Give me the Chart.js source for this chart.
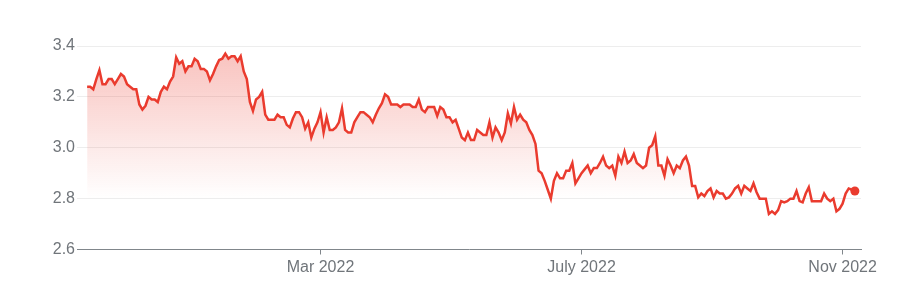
<!DOCTYPE html>
<html lang="en">
<head>
  <meta charset="UTF-8" />
  <title>1Y price chart</title>
  <script src="https://cdn.jsdelivr.net/npm/chart.js"></script>
  <style>
    html, body { margin: 0; padding: 0; background: #fff; }
    #wrap { position: relative; width: 903px; height: 297px; }
  </style>
</head>
<body>
  <div id="wrap"><canvas id="priceChart"></canvas></div>

  <script>
// closing prices, one per trading day (Nov 2021 - Nov 2022)
const prices = [
  3.24, 3.24, 3.23, 3.27, 3.305, 3.25, 3.25, 3.27, 3.27, 3.25,
  3.27, 3.29, 3.28, 3.25, 3.24, 3.23, 3.23, 3.17, 3.15, 3.165,
  3.20, 3.19, 3.19, 3.18, 3.22, 3.24, 3.23, 3.26, 3.28, 3.355,
  3.33, 3.34, 3.30, 3.32, 3.32, 3.35, 3.34, 3.31, 3.31, 3.30,
  3.265, 3.29, 3.32, 3.345, 3.35, 3.37, 3.35, 3.36, 3.36, 3.34,
  3.36, 3.30, 3.27, 3.18, 3.145, 3.19, 3.20, 3.22, 3.13, 3.11,
  3.11, 3.11, 3.13, 3.12, 3.12, 3.09, 3.08, 3.115, 3.14, 3.14,
  3.12, 3.075, 3.10, 3.04, 3.075, 3.10, 3.14, 3.06, 3.12, 3.07,
  3.07, 3.08, 3.10, 3.155, 3.07, 3.06, 3.06, 3.10, 3.12, 3.14,
  3.14, 3.13, 3.12, 3.10, 3.13, 3.155, 3.175, 3.21, 3.20, 3.17,
  3.17, 3.17, 3.16, 3.17, 3.17, 3.17, 3.16, 3.16, 3.19, 3.15,
  3.14, 3.16, 3.16, 3.16, 3.125, 3.16, 3.15, 3.12, 3.12, 3.10,
  3.11, 3.075, 3.04, 3.03, 3.06, 3.03, 3.03, 3.07, 3.06, 3.05,
  3.05, 3.10, 3.04, 3.08, 3.06, 3.03, 3.06, 3.135, 3.095, 3.16,
  3.11, 3.13, 3.11, 3.10, 3.07, 3.05, 3.015, 2.91, 2.90, 2.87,
  2.835, 2.80, 2.87, 2.90, 2.88, 2.88, 2.91, 2.91, 2.94, 2.86,
  2.88,
  2.90, 2.915, 2.93, 2.90, 2.92, 2.92, 2.94, 2.965, 2.93, 2.92,
  2.93, 2.89, 2.965, 2.94, 2.985, 2.94, 2.95, 2.975, 2.94, 2.93,
  2.92, 2.93, 3.00, 3.01, 3.045, 2.93, 2.93, 2.89, 2.955, 2.93,
  2.90, 2.93, 2.92, 2.95, 2.965, 2.93, 2.85, 2.85, 2.805, 2.82,
  2.81, 2.83, 2.84, 2.805, 2.83, 2.82, 2.82, 2.80, 2.805, 2.82,
  2.84, 2.85, 2.82, 2.85, 2.84, 2.83, 2.86, 2.825, 2.80, 2.80,
  2.80, 2.74, 2.75, 2.74, 2.755, 2.79, 2.785, 2.79, 2.80, 2.80,
  2.83, 2.79, 2.785, 2.82, 2.845, 2.79, 2.79, 2.79, 2.79, 2.82,
  2.80, 2.79, 2.80, 2.75, 2.76, 2.78, 2.82, 2.84, 2.835, 2.83
];

const lastDate = '2022-11-07';
const marketHolidays = [
  '2021-11-25', '2021-12-24', '2022-01-17', '2022-02-21', '2022-04-15',
  '2022-05-30', '2022-06-20', '2022-07-04', '2022-09-05'
];

// month ticks on the x axis
const tickDates = ['2022-03-01', '2022-07-01', '2022-11-01'];
const tickLabels = ['Mar 2022', 'July 2022', 'Nov 2022'];

const yTicks = [2.6, 2.8, 3.0, 3.2, 3.4];

// trading days, walking back from the last date
const tradingDays = [];
let d = new Date(lastDate + 'T00:00:00Z');
while (tradingDays.length < prices.length) {
    const iso = d.toISOString().slice(0, 10);
    const wd = d.getUTCDay();
    if (wd !== 0 && wd !== 6 && !marketHolidays.includes(iso)) tradingDays.unshift(iso);
    d.setUTCDate(d.getUTCDate() - 1);
}

// index of the first trading day on/after each tick date
const tickIndex = tickDates.map(t => tradingDays.findIndex(day => day >= t));

const points = prices.map((p, i) => ({ x: i, y: p }));
const lastIdx = prices.length - 1;

const RED = '#ea3b2e';

function fillGradient(context) {
    const area = context.chart.chartArea;
    if (!area) return 'rgba(234,59,46,0.2)';
    const g = context.chart.ctx.createLinearGradient(0, area.top, 0, area.bottom);
    g.addColorStop(0, 'rgba(234,59,46,0.32)');
    g.addColorStop(0.75, 'rgba(234,59,46,0.0)');
    g.addColorStop(1, 'rgba(234,59,46,0.0)');
    return g;
}

const ctx = document.getElementById('priceChart').getContext('2d');
new Chart(ctx, {
    type: 'line',
    data: {
        datasets: [{
            data: points,
            borderColor: RED,
            borderWidth: 2.5,
            backgroundColor: fillGradient,
            fill: 'start',
            tension: 0,
            pointRadius: c => c.dataIndex === lastIdx ? 4.5 : 0,
            pointBackgroundColor: RED,
            pointBorderWidth: 0,
            pointHoverRadius: 0
        }]
    },
    options: {
        responsive: true,
        maintainAspectRatio: false,
        animation: false,
        layout: { padding: { left: 0, right: 42, top: 46, bottom: 0 } },
        plugins: {
            legend: { display: false },
            tooltip: { enabled: false }
        },
        scales: {
            x: {
                type: 'linear',
                min: -3.3,
                max: lastIdx + 2,
                afterBuildTicks: axis => {
                    axis.ticks = tickIndex.map(v => ({ value: v }));
                },
                afterFit: axis => { axis.height = 47.5; },
                ticks: {
                    autoSkip: false,
                    maxRotation: 0,
                    padding: 3,
                    color: '#70757a',
                    font: { family: '"Liberation Sans", Arial, sans-serif', size: 16 },
                    callback: v => tickLabels[tickIndex.indexOf(v)] || ''
                },
                grid: {
                    drawOnChartArea: false,
                    drawTicks: true,
                    tickLength: 5,
                    color: '#80868b'
                },
                border: { display: true, color: '#80868b', width: 1 }
            },
            y: {
                min: 2.6,
                max: 3.4,
                afterBuildTicks: axis => {
                    axis.ticks = yTicks.map(v => ({ value: v }));
                },
                afterFit: axis => { axis.width = 77; },
                ticks: {
                    padding: 2,
                    color: '#70757a',
                    font: { family: '"Liberation Sans", Arial, sans-serif', size: 16 },
                    callback: v => v.toFixed(1)
                },
                grid: {
                    color: '#ededed',
                    drawTicks: false
                },
                border: { display: false }
            }
        }
    }
});
  </script>
</body>
</html>
